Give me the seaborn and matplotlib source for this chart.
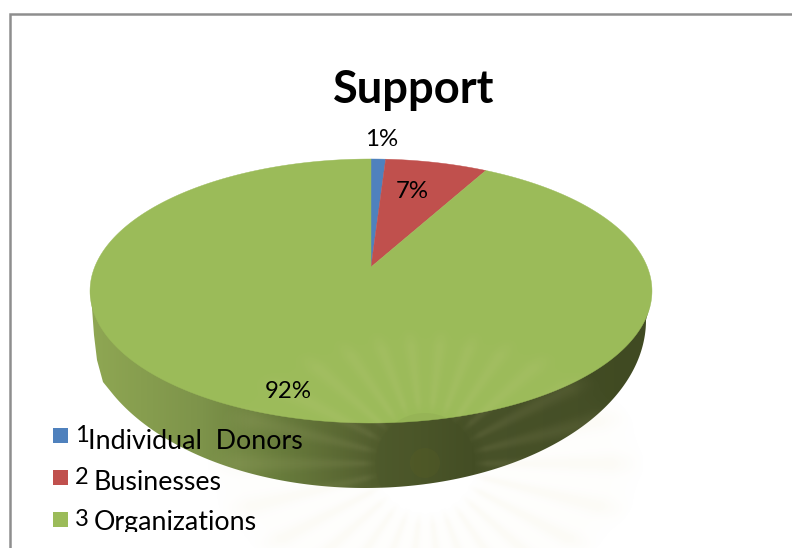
import numpy as np
import matplotlib
matplotlib.use("Agg")
import matplotlib.pyplot as plt
from matplotlib.colors import LinearSegmentedColormap
from matplotlib.patches import Polygon, Rectangle, Circle
import seaborn as sns

# Chart content
title = "Support"
categories = ["Individual  Donors", "Businesses", "Organizations"]
legend_ids = ["1", "2", "3"]
shares = [1, 7, 92]
colors = ["#4F81BD", "#C0504D", "#9BBB59"]

sns.set_theme(style="white")
plt.rcParams["font.family"] = ["Lato", "DejaVu Sans"]
palette = sns.color_palette(colors)

W, H = 792, 548
fig = plt.figure(figsize=(W / 100, H / 100), dpi=100, facecolor="white")
ax = fig.add_axes([0, 0, 1, 1])
ax.set_xlim(0, W)
ax.set_ylim(H, 0)
ax.axis("off")

# Perspective view of the unit disc, seen from above
CX, CY, HALF_W, DEPTH, TILT = 371.0, 267.0, 276.3, -79.1, 0.1818


def project(px, py):
    w = 1 + TILT * py
    return CX + HALF_W * px / w, (CY + DEPTH * py) / w


def slice_outline(start, stop):
    t = np.linspace(start, stop, max(4, int((stop - start) * 4) + 2)) * 2 * np.pi / 100
    x, y = project(np.sin(t), np.cos(t))
    return np.r_[CX, x], np.r_[CY, y]


# Side wall of the disc, shaded from left to right
t = np.linspace(0, np.pi, 300)
low_x = 365 + 281 * np.cos(t)
low_y = 320 + 168 * np.sin(t)
keep = (low_x <= 646) & (low_x >= 113)
wall = np.column_stack([
    np.r_[651, 650, low_x[keep], 103, 97, 94, 92, 90],
    np.r_[290, 305, low_y[keep], 382, 360, 335, 308, 290],
])
wall_cmap = LinearSegmentedColormap.from_list(
    "wall",
    [(0.0, "#8FA753"), (0.2, "#7D934A"), (0.34, "#667A3A"), (0.5, "#515D2D"),
     (0.68, "#454F26"), (1.0, "#404A22")],
)
shade = ax.imshow(np.linspace(0, 1, 256)[None, :], cmap=wall_cmap, extent=(90, 651, 490, 285),
                  aspect="auto", zorder=1)
clip = Polygon(wall, closed=True, transform=ax.transData, facecolor="none", edgecolor="none")
ax.add_patch(clip)
shade.set_clip_path(clip)

# Top face: one slice per share, clockwise from twelve o'clock
edges = np.r_[0, np.cumsum(shares)]
for start, stop, color in zip(edges[:-1], edges[1:], palette):
    ax.fill(*slice_outline(start, stop), color=color, linewidth=0.3, zorder=2)
ax.set_xlim(0, W)
ax.set_ylim(H, 0)

# Faint emblem printed across the page
yy, xx = np.mgrid[0:H, 0:W]
ex, ey = 425.0, 463.0
dx, dy = xx - ex, yy - ey
ang = np.arctan2(dy, dx)
rad = np.hypot(dx, dy)
reach = np.hypot(dx / 215, dy / 135)
rays = (0.5 + 0.5 * np.cos(26 * ang)) ** 2
fade = np.clip((1.02 - reach) / 0.15, 0, 1) * np.clip((rad - 48) / 14, 0, 1)
emblem = np.zeros((H, W, 4))
emblem[..., :3] = np.array([225, 215, 165]) / 255
emblem[..., 3] = (0.025 + 0.07 * rays) * fade
ax.imshow(emblem, extent=(0, W, H, 0), aspect="auto", zorder=3, interpolation="bilinear")
ax.add_patch(Circle((ex, ey), 50, facecolor="#3A4420", alpha=0.05, edgecolor="none", zorder=3,
                    clip_path=clip))
ax.add_patch(Circle((ex, ey), 15, facecolor="#6B6A20", alpha=0.14, edgecolor="none", zorder=3,
                    clip_path=clip))
ax.set_xlim(0, W)
ax.set_ylim(H, 0)

# Page frame
frame = "#8E8E8E"
ax.plot([9.5, 9.5, W], [H, 14, 14], color=frame, linewidth=1.8, solid_joinstyle="miter", zorder=6)

# Title and percentage labels
ax.text(414, 90, title, fontsize=32.6, fontweight="bold", color="black", ha="center", va="center", zorder=7)
label_pos = [(382, 140), (412, 192), (288, 391)]
for value, (lx, ly) in zip(shares, label_pos):
    ax.text(lx, ly, f"{value}%", fontsize=17.3, color="black", ha="center", va="center", zorder=7)

# Legend; the lowest entry is cut off by the chart area
legend_clip = Rectangle((0, 0), W, 532, transform=ax.transData)
key_y = [428, 470, 512]
id_x = [75, 75, 75]
text_x = [88, 94, 94]
base_y = [449, 490, 530]
for name, tag, color, ky, ix, tx, by in zip(categories, legend_ids, palette, key_y, id_x, text_x, base_y):
    ax.add_patch(Rectangle((53, ky), 15, 15, facecolor=color, edgecolor="none", zorder=7))
    ax.text(ix, ky + 7, tag, fontsize=17, color="black", ha="left", va="center", zorder=7)
    t_obj = ax.text(tx, by, name, fontsize=19.3, color="black", ha="left", va="baseline", zorder=7)
    t_obj.set_clip_path(legend_clip)
    t_obj.set_clip_on(True)

fig.savefig("out.png", dpi=100, facecolor="white")
